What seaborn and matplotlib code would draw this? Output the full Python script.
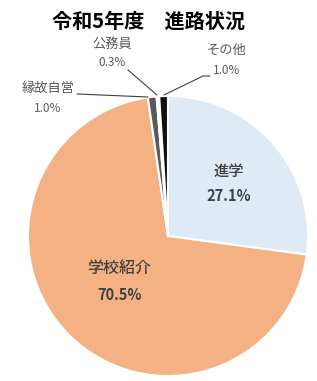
import numpy as np
import matplotlib
matplotlib.use("Agg")
import matplotlib.pyplot as plt
import seaborn as sns

sns.set_theme(style="white")
plt.rcParams['font.family'] = ['Noto Sans CJK JP', 'DejaVu Sans']

categories = ["進学", "学校紹介", "縁故自営", "公務員", "その他"]
values = [27.1, 70.5, 1.0, 0.3, 1.0]
colors = ["#DEEAF6", "#F4B183", "#595959", "#FFFFFF", "#111111"]
title = "令和5年度　進路状況"

W, H = 317, 381
fig = plt.figure(figsize=(W / 100, H / 100), dpi=100)
cx, cy, r = 168, 236, 140
ax = fig.add_axes([(cx - r) / W, 1 - (cy + r) / H, 2 * r / W, 2 * r / H])
wedges, _ = ax.pie(values, colors=colors, startangle=90, counterclock=False,
                   radius=1.0, wedgeprops=dict(edgecolor="white", linewidth=1.5))
ax.set_xlim(-1, 1)
ax.set_ylim(-1, 1)
ax.set_aspect("equal")
ax.axis("off")

def px(x, y):
    # pixel -> data coords
    return ((x - cx) / r, (cy - y) / r)

txt = "#404040"
lab = "#595959"
# inner labels
ax.text(*px(229, 171), categories[0], ha="center", va="center", fontsize=11, color=txt, fontweight="medium")
ax.text(*px(229, 196), f"{values[0]:.1f}%", ha="center", va="center", fontsize=10.5, color=txt, fontweight="bold")
ax.text(*px(119, 268), categories[1], ha="center", va="center", fontsize=11.5, color=txt, fontweight="medium")
ax.text(*px(120, 295), f"{values[1]:.1f}%", ha="center", va="center", fontsize=10.5, color=txt, fontweight="bold")

# outer labels
outer = [
    (2, (48, 88), (48, 108), [(77, 94), (148, 97)]),
    (3, (112, 44), (112, 63), [(128, 70), (157, 95)]),
    (4, (227, 50), (227, 71), [(210, 76), (203, 76), (164, 95)]),
]
for i, p1, p2, line in outer:
    ax.text(*px(*p1), categories[i], ha="center", va="center", fontsize=9.5, color=lab)
    ax.text(*px(*p2), f"{values[i]:.1f}%", ha="center", va="center", fontsize=8.5, color=lab)
    xs, ys = zip(*[px(*p) for p in line])
    ax.plot(xs, ys, color="#404040", lw=0.8, clip_on=False)

fig.text(149 / W, 1 - 21 / H, title, ha="center", va="center", fontsize=14.5,
         fontweight="bold", color="black")

fig.savefig("out.png", dpi=100, facecolor="white")
